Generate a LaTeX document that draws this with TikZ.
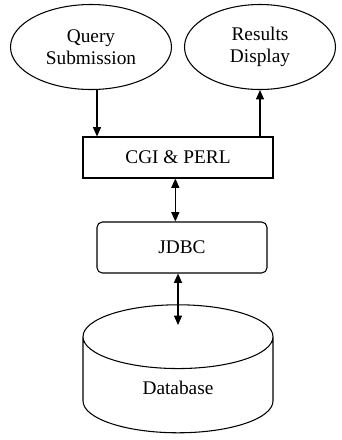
\documentclass[tikz,border=0pt]{standalone}
\usepackage{fontspec}
\setmainfont{Liberation Serif}
\usetikzlibrary{positioning, shapes.geometric, arrows.meta}

\begin{document}
\begin{tikzpicture}[
    x=0.75pt, y=-0.75pt,
    every node/.style={font=\fontsize{14.5}{16.5}\selectfont, inner sep=0pt},
    oval/.style={ellipse, draw, line width=0.8pt, minimum height=63.75pt, align=center},
    layer/.style={rectangle, draw, line width=0.8pt, minimum width=142.5pt, minimum height=30.75pt},
    store/.style={cylinder, shape border rotate=90, draw, line width=0.8pt, aspect=0.9, minimum width=142.5pt, minimum height=96pt},
    arrow/.style={-{Triangle[length=7pt, width=6pt]}, line width=0.9pt},
    twoway/.style={{Triangle[length=7pt, width=6pt]}-{Triangle[length=7pt, width=6pt]}, line width=0.9pt}
]
\useasboundingbox (0,0) rectangle (342,440);

% User side
\node[oval, minimum width=120.75pt] (query) at (91,47) {Query\\Submission};
\node[oval, minimum width=113.25pt] (results) at (260,47) {Results\\Display};

% Middle layers
\node[layer] (cgi) at (178,157.5) {CGI \& PERL};
\node[layer, rounded corners=4pt, minimum width=127.5pt, minimum height=38.25pt] (jdbc) at (182,247.5) {JDBC};

% Data store
\node[store] (db) at (178,385) {\raisebox{-6.75pt}[0pt][0pt]{Database}};
\coordinate (dbface) at (178,325);

% Connectors
\draw[arrow] ([xshift=4.5pt]query.south) -- ([xshift=4.5pt]query.south |- cgi.north);
\draw[arrow] (results.south |- cgi.north) -- (results.south);
\draw[twoway] ([xshift=-2pt]cgi.south) -- ([xshift=-2pt]cgi.south |- jdbc.north);
\draw[twoway] (jdbc.south -| dbface) -- (dbface);

\end{tikzpicture}
\end{document}
